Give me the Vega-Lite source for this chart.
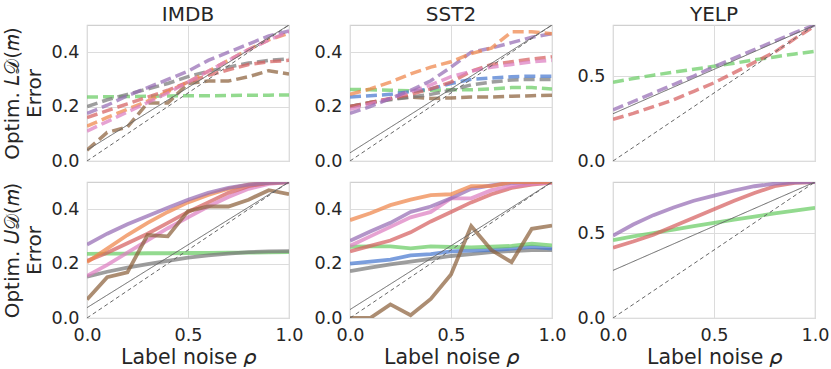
{
"$schema":"https://vega.github.io/schema/vega-lite/v6.json",
"padding":{"left":1,"top":3,"right":1,"bottom":0},
"background":"white",
"datasets":{
"refs":[
{"p":"IL","k":"solid","x":0,"y":0.04},{"p":"IL","k":"solid","x":1,"y":0.5},{"p":"IL","k":"dashed","x":0,"y":0},{"p":"IL","k":"dashed","x":1,"y":0.5},
{"p":"SL","k":"solid","x":0,"y":0.03},{"p":"SL","k":"solid","x":1,"y":0.5},{"p":"SL","k":"dashed","x":0,"y":0},{"p":"SL","k":"dashed","x":1,"y":0.5},
{"p":"YL","k":"solid","x":0,"y":0.278},{"p":"YL","k":"solid","x":1,"y":0.8},{"p":"YL","k":"dashed","x":0,"y":0},{"p":"YL","k":"dashed","x":1,"y":0.8},
{"p":"IU","k":"solid","x":0,"y":0.038},{"p":"IU","k":"solid","x":1,"y":0.5},{"p":"IU","k":"dashed","x":0,"y":0},{"p":"IU","k":"dashed","x":1,"y":0.5},
{"p":"SU","k":"solid","x":0,"y":0.031},{"p":"SU","k":"solid","x":1,"y":0.5},{"p":"SU","k":"dashed","x":0,"y":0},{"p":"SU","k":"dashed","x":1,"y":0.5},
{"p":"YU","k":"solid","x":0,"y":0.28},{"p":"YU","k":"solid","x":1,"y":0.8},{"p":"YU","k":"dashed","x":0,"y":0},{"p":"YU","k":"dashed","x":1,"y":0.8}
],
"curves":[
{"p":"IL","m":"green","x":0,"y":0.235},{"p":"IL","m":"green","x":0.1,"y":0.236},{"p":"IL","m":"green","x":0.2,"y":0.237},{"p":"IL","m":"green","x":0.3,"y":0.238},{"p":"IL","m":"green","x":0.4,"y":0.239},{"p":"IL","m":"green","x":0.5,"y":0.24},{"p":"IL","m":"green","x":0.6,"y":0.24},{"p":"IL","m":"green","x":0.7,"y":0.241},{"p":"IL","m":"green","x":0.8,"y":0.242},{"p":"IL","m":"green","x":0.9,"y":0.242},{"p":"IL","m":"green","x":1,"y":0.243},
{"p":"IL","m":"gray","x":0,"y":0.2},{"p":"IL","m":"gray","x":0.1,"y":0.225},{"p":"IL","m":"gray","x":0.2,"y":0.245},{"p":"IL","m":"gray","x":0.3,"y":0.265},{"p":"IL","m":"gray","x":0.4,"y":0.285},{"p":"IL","m":"gray","x":0.5,"y":0.31},{"p":"IL","m":"gray","x":0.6,"y":0.33},{"p":"IL","m":"gray","x":0.7,"y":0.345},{"p":"IL","m":"gray","x":0.8,"y":0.36},{"p":"IL","m":"gray","x":0.9,"y":0.37},{"p":"IL","m":"gray","x":1,"y":0.375},
{"p":"IL","m":"brown","x":0,"y":0.04},{"p":"IL","m":"brown","x":0.1,"y":0.105},{"p":"IL","m":"brown","x":0.2,"y":0.125},{"p":"IL","m":"brown","x":0.3,"y":0.213},{"p":"IL","m":"brown","x":0.4,"y":0.213},{"p":"IL","m":"brown","x":0.5,"y":0.285},{"p":"IL","m":"brown","x":0.6,"y":0.294},{"p":"IL","m":"brown","x":0.7,"y":0.294},{"p":"IL","m":"brown","x":0.8,"y":0.31},{"p":"IL","m":"brown","x":0.9,"y":0.332},{"p":"IL","m":"brown","x":1,"y":0.32},
{"p":"IL","m":"red","x":0,"y":0.16},{"p":"IL","m":"red","x":0.1,"y":0.185},{"p":"IL","m":"red","x":0.2,"y":0.21},{"p":"IL","m":"red","x":0.3,"y":0.235},{"p":"IL","m":"red","x":0.4,"y":0.26},{"p":"IL","m":"red","x":0.5,"y":0.29},{"p":"IL","m":"red","x":0.6,"y":0.315},{"p":"IL","m":"red","x":0.7,"y":0.335},{"p":"IL","m":"red","x":0.8,"y":0.355},{"p":"IL","m":"red","x":0.9,"y":0.365},{"p":"IL","m":"red","x":1,"y":0.37},
{"p":"IL","m":"orange","x":0,"y":0.128},{"p":"IL","m":"orange","x":0.1,"y":0.16},{"p":"IL","m":"orange","x":0.2,"y":0.19},{"p":"IL","m":"orange","x":0.3,"y":0.22},{"p":"IL","m":"orange","x":0.4,"y":0.255},{"p":"IL","m":"orange","x":0.5,"y":0.29},{"p":"IL","m":"orange","x":0.6,"y":0.33},{"p":"IL","m":"orange","x":0.7,"y":0.37},{"p":"IL","m":"orange","x":0.8,"y":0.41},{"p":"IL","m":"orange","x":0.9,"y":0.445},{"p":"IL","m":"orange","x":1,"y":0.47},
{"p":"IL","m":"purple","x":0,"y":0.175},{"p":"IL","m":"purple","x":0.1,"y":0.205},{"p":"IL","m":"purple","x":0.2,"y":0.24},{"p":"IL","m":"purple","x":0.3,"y":0.27},{"p":"IL","m":"purple","x":0.4,"y":0.3},{"p":"IL","m":"purple","x":0.5,"y":0.33},{"p":"IL","m":"purple","x":0.6,"y":0.37},{"p":"IL","m":"purple","x":0.7,"y":0.4},{"p":"IL","m":"purple","x":0.8,"y":0.43},{"p":"IL","m":"purple","x":0.9,"y":0.46},{"p":"IL","m":"purple","x":1,"y":0.478},
{"p":"IL","m":"pink","x":0,"y":0.11},{"p":"IL","m":"pink","x":0.1,"y":0.145},{"p":"IL","m":"pink","x":0.2,"y":0.18},{"p":"IL","m":"pink","x":0.3,"y":0.215},{"p":"IL","m":"pink","x":0.4,"y":0.25},{"p":"IL","m":"pink","x":0.5,"y":0.29},{"p":"IL","m":"pink","x":0.6,"y":0.33},{"p":"IL","m":"pink","x":0.7,"y":0.37},{"p":"IL","m":"pink","x":0.8,"y":0.41},{"p":"IL","m":"pink","x":0.9,"y":0.445},{"p":"IL","m":"pink","x":1,"y":0.475},

{"p":"SL","m":"brown","x":0,"y":0.2},{"p":"SL","m":"brown","x":0.1,"y":0.215},{"p":"SL","m":"brown","x":0.2,"y":0.228},{"p":"SL","m":"brown","x":0.3,"y":0.235},{"p":"SL","m":"brown","x":0.4,"y":0.23},{"p":"SL","m":"brown","x":0.5,"y":0.232},{"p":"SL","m":"brown","x":0.6,"y":0.235},{"p":"SL","m":"brown","x":0.7,"y":0.235},{"p":"SL","m":"brown","x":0.8,"y":0.238},{"p":"SL","m":"brown","x":0.9,"y":0.24},{"p":"SL","m":"brown","x":1,"y":0.242},
{"p":"SL","m":"green","x":0,"y":0.263},{"p":"SL","m":"green","x":0.1,"y":0.262},{"p":"SL","m":"green","x":0.2,"y":0.26},{"p":"SL","m":"green","x":0.3,"y":0.258},{"p":"SL","m":"green","x":0.4,"y":0.26},{"p":"SL","m":"green","x":0.5,"y":0.262},{"p":"SL","m":"green","x":0.6,"y":0.262},{"p":"SL","m":"green","x":0.7,"y":0.265},{"p":"SL","m":"green","x":0.8,"y":0.27},{"p":"SL","m":"green","x":0.9,"y":0.27},{"p":"SL","m":"green","x":1,"y":0.265},
{"p":"SL","m":"gray","x":0,"y":0.2},{"p":"SL","m":"gray","x":0.1,"y":0.215},{"p":"SL","m":"gray","x":0.2,"y":0.225},{"p":"SL","m":"gray","x":0.3,"y":0.235},{"p":"SL","m":"gray","x":0.4,"y":0.245},{"p":"SL","m":"gray","x":0.5,"y":0.26},{"p":"SL","m":"gray","x":0.6,"y":0.28},{"p":"SL","m":"gray","x":0.7,"y":0.29},{"p":"SL","m":"gray","x":0.8,"y":0.298},{"p":"SL","m":"gray","x":0.9,"y":0.3},{"p":"SL","m":"gray","x":1,"y":0.3},
{"p":"SL","m":"blue","x":0,"y":0.235},{"p":"SL","m":"blue","x":0.1,"y":0.24},{"p":"SL","m":"blue","x":0.2,"y":0.245},{"p":"SL","m":"blue","x":0.3,"y":0.255},{"p":"SL","m":"blue","x":0.4,"y":0.265},{"p":"SL","m":"blue","x":0.5,"y":0.285},{"p":"SL","m":"blue","x":0.6,"y":0.3},{"p":"SL","m":"blue","x":0.7,"y":0.305},{"p":"SL","m":"blue","x":0.8,"y":0.31},{"p":"SL","m":"blue","x":0.9,"y":0.312},{"p":"SL","m":"blue","x":1,"y":0.312},
{"p":"SL","m":"red","x":0,"y":0.2},{"p":"SL","m":"red","x":0.1,"y":0.215},{"p":"SL","m":"red","x":0.2,"y":0.23},{"p":"SL","m":"red","x":0.3,"y":0.245},{"p":"SL","m":"red","x":0.4,"y":0.265},{"p":"SL","m":"red","x":0.5,"y":0.29},{"p":"SL","m":"red","x":0.6,"y":0.33},{"p":"SL","m":"red","x":0.7,"y":0.355},{"p":"SL","m":"red","x":0.8,"y":0.365},{"p":"SL","m":"red","x":0.9,"y":0.375},{"p":"SL","m":"red","x":1,"y":0.383},
{"p":"SL","m":"pink","x":0,"y":0.19},{"p":"SL","m":"pink","x":0.1,"y":0.21},{"p":"SL","m":"pink","x":0.2,"y":0.23},{"p":"SL","m":"pink","x":0.3,"y":0.255},{"p":"SL","m":"pink","x":0.4,"y":0.28},{"p":"SL","m":"pink","x":0.5,"y":0.31},{"p":"SL","m":"pink","x":0.6,"y":0.33},{"p":"SL","m":"pink","x":0.7,"y":0.345},{"p":"SL","m":"pink","x":0.8,"y":0.355},{"p":"SL","m":"pink","x":0.9,"y":0.365},{"p":"SL","m":"pink","x":1,"y":0.37},
{"p":"SL","m":"purple","x":0,"y":0.175},{"p":"SL","m":"purple","x":0.1,"y":0.2},{"p":"SL","m":"purple","x":0.2,"y":0.23},{"p":"SL","m":"purple","x":0.3,"y":0.26},{"p":"SL","m":"purple","x":0.4,"y":0.295},{"p":"SL","m":"purple","x":0.5,"y":0.345},{"p":"SL","m":"purple","x":0.6,"y":0.4},{"p":"SL","m":"purple","x":0.7,"y":0.415},{"p":"SL","m":"purple","x":0.8,"y":0.435},{"p":"SL","m":"purple","x":0.9,"y":0.455},{"p":"SL","m":"purple","x":1,"y":0.468},
{"p":"SL","m":"orange","x":0,"y":0.245},{"p":"SL","m":"orange","x":0.1,"y":0.265},{"p":"SL","m":"orange","x":0.2,"y":0.29},{"p":"SL","m":"orange","x":0.3,"y":0.32},{"p":"SL","m":"orange","x":0.4,"y":0.345},{"p":"SL","m":"orange","x":0.5,"y":0.365},{"p":"SL","m":"orange","x":0.6,"y":0.395},{"p":"SL","m":"orange","x":0.7,"y":0.415},{"p":"SL","m":"orange","x":0.8,"y":0.475},{"p":"SL","m":"orange","x":0.9,"y":0.475},{"p":"SL","m":"orange","x":1,"y":0.468},

{"p":"YL","m":"green","x":0,"y":0.463},{"p":"YL","m":"green","x":0.1,"y":0.485},{"p":"YL","m":"green","x":0.2,"y":0.505},{"p":"YL","m":"green","x":0.3,"y":0.523},{"p":"YL","m":"green","x":0.4,"y":0.54},{"p":"YL","m":"green","x":0.5,"y":0.557},{"p":"YL","m":"green","x":0.6,"y":0.575},{"p":"YL","m":"green","x":0.7,"y":0.595},{"p":"YL","m":"green","x":0.8,"y":0.612},{"p":"YL","m":"green","x":0.9,"y":0.63},{"p":"YL","m":"green","x":1,"y":0.645},
{"p":"YL","m":"red","x":0,"y":0.245},{"p":"YL","m":"red","x":0.1,"y":0.28},{"p":"YL","m":"red","x":0.2,"y":0.32},{"p":"YL","m":"red","x":0.3,"y":0.36},{"p":"YL","m":"red","x":0.4,"y":0.41},{"p":"YL","m":"red","x":0.5,"y":0.46},{"p":"YL","m":"red","x":0.6,"y":0.52},{"p":"YL","m":"red","x":0.7,"y":0.58},{"p":"YL","m":"red","x":0.8,"y":0.64},{"p":"YL","m":"red","x":0.9,"y":0.72},{"p":"YL","m":"red","x":1,"y":0.795},
{"p":"YL","m":"purple","x":0,"y":0.3},{"p":"YL","m":"purple","x":0.1,"y":0.35},{"p":"YL","m":"purple","x":0.2,"y":0.4},{"p":"YL","m":"purple","x":0.3,"y":0.45},{"p":"YL","m":"purple","x":0.4,"y":0.5},{"p":"YL","m":"purple","x":0.5,"y":0.555},{"p":"YL","m":"purple","x":0.6,"y":0.605},{"p":"YL","m":"purple","x":0.7,"y":0.655},{"p":"YL","m":"purple","x":0.8,"y":0.705},{"p":"YL","m":"purple","x":0.9,"y":0.755},{"p":"YL","m":"purple","x":1,"y":0.8},

{"p":"IU","m":"green","x":0,"y":0.236},{"p":"IU","m":"green","x":0.1,"y":0.237},{"p":"IU","m":"green","x":0.2,"y":0.237},{"p":"IU","m":"green","x":0.3,"y":0.238},{"p":"IU","m":"green","x":0.4,"y":0.238},{"p":"IU","m":"green","x":0.5,"y":0.239},{"p":"IU","m":"green","x":0.6,"y":0.239},{"p":"IU","m":"green","x":0.7,"y":0.24},{"p":"IU","m":"green","x":0.8,"y":0.24},{"p":"IU","m":"green","x":0.9,"y":0.241},{"p":"IU","m":"green","x":1,"y":0.242},
{"p":"IU","m":"gray","x":0,"y":0.152},{"p":"IU","m":"gray","x":0.1,"y":0.17},{"p":"IU","m":"gray","x":0.2,"y":0.185},{"p":"IU","m":"gray","x":0.3,"y":0.198},{"p":"IU","m":"gray","x":0.4,"y":0.21},{"p":"IU","m":"gray","x":0.5,"y":0.222},{"p":"IU","m":"gray","x":0.6,"y":0.23},{"p":"IU","m":"gray","x":0.7,"y":0.237},{"p":"IU","m":"gray","x":0.8,"y":0.242},{"p":"IU","m":"gray","x":0.9,"y":0.245},{"p":"IU","m":"gray","x":1,"y":0.246},
{"p":"IU","m":"pink","x":0,"y":0.155},{"p":"IU","m":"pink","x":0.1,"y":0.195},{"p":"IU","m":"pink","x":0.2,"y":0.24},{"p":"IU","m":"pink","x":0.3,"y":0.285},{"p":"IU","m":"pink","x":0.4,"y":0.33},{"p":"IU","m":"pink","x":0.5,"y":0.37},{"p":"IU","m":"pink","x":0.6,"y":0.41},{"p":"IU","m":"pink","x":0.7,"y":0.445},{"p":"IU","m":"pink","x":0.8,"y":0.475},{"p":"IU","m":"pink","x":0.9,"y":0.493},{"p":"IU","m":"pink","x":1,"y":0.5},
{"p":"IU","m":"red","x":0,"y":0.21},{"p":"IU","m":"red","x":0.1,"y":0.24},{"p":"IU","m":"red","x":0.2,"y":0.275},{"p":"IU","m":"red","x":0.3,"y":0.31},{"p":"IU","m":"red","x":0.4,"y":0.35},{"p":"IU","m":"red","x":0.5,"y":0.39},{"p":"IU","m":"red","x":0.6,"y":0.425},{"p":"IU","m":"red","x":0.7,"y":0.46},{"p":"IU","m":"red","x":0.8,"y":0.485},{"p":"IU","m":"red","x":0.9,"y":0.497},{"p":"IU","m":"red","x":1,"y":0.5},
{"p":"IU","m":"orange","x":0,"y":0.205},{"p":"IU","m":"orange","x":0.1,"y":0.255},{"p":"IU","m":"orange","x":0.2,"y":0.305},{"p":"IU","m":"orange","x":0.3,"y":0.35},{"p":"IU","m":"orange","x":0.4,"y":0.39},{"p":"IU","m":"orange","x":0.5,"y":0.425},{"p":"IU","m":"orange","x":0.6,"y":0.452},{"p":"IU","m":"orange","x":0.7,"y":0.475},{"p":"IU","m":"orange","x":0.8,"y":0.49},{"p":"IU","m":"orange","x":0.9,"y":0.498},{"p":"IU","m":"orange","x":1,"y":0.5},
{"p":"IU","m":"purple","x":0,"y":0.27},{"p":"IU","m":"purple","x":0.1,"y":0.31},{"p":"IU","m":"purple","x":0.2,"y":0.345},{"p":"IU","m":"purple","x":0.3,"y":0.375},{"p":"IU","m":"purple","x":0.4,"y":0.405},{"p":"IU","m":"purple","x":0.5,"y":0.435},{"p":"IU","m":"purple","x":0.6,"y":0.46},{"p":"IU","m":"purple","x":0.7,"y":0.478},{"p":"IU","m":"purple","x":0.8,"y":0.49},{"p":"IU","m":"purple","x":0.9,"y":0.497},{"p":"IU","m":"purple","x":1,"y":0.5},
{"p":"IU","m":"brown","x":0,"y":0.068},{"p":"IU","m":"brown","x":0.1,"y":0.15},{"p":"IU","m":"brown","x":0.2,"y":0.168},{"p":"IU","m":"brown","x":0.3,"y":0.305},{"p":"IU","m":"brown","x":0.4,"y":0.3},{"p":"IU","m":"brown","x":0.5,"y":0.393},{"p":"IU","m":"brown","x":0.6,"y":0.41},{"p":"IU","m":"brown","x":0.7,"y":0.41},{"p":"IU","m":"brown","x":0.8,"y":0.435},{"p":"IU","m":"brown","x":0.9,"y":0.47},{"p":"IU","m":"brown","x":1,"y":0.455},

{"p":"SU","m":"gray","x":0,"y":0.172},{"p":"SU","m":"gray","x":0.1,"y":0.185},{"p":"SU","m":"gray","x":0.2,"y":0.197},{"p":"SU","m":"gray","x":0.3,"y":0.207},{"p":"SU","m":"gray","x":0.4,"y":0.217},{"p":"SU","m":"gray","x":0.5,"y":0.228},{"p":"SU","m":"gray","x":0.6,"y":0.235},{"p":"SU","m":"gray","x":0.7,"y":0.242},{"p":"SU","m":"gray","x":0.8,"y":0.246},{"p":"SU","m":"gray","x":0.9,"y":0.25},{"p":"SU","m":"gray","x":1,"y":0.25},
{"p":"SU","m":"blue","x":0,"y":0.2},{"p":"SU","m":"blue","x":0.1,"y":0.207},{"p":"SU","m":"blue","x":0.2,"y":0.215},{"p":"SU","m":"blue","x":0.3,"y":0.23},{"p":"SU","m":"blue","x":0.4,"y":0.235},{"p":"SU","m":"blue","x":0.5,"y":0.245},{"p":"SU","m":"blue","x":0.6,"y":0.248},{"p":"SU","m":"blue","x":0.7,"y":0.25},{"p":"SU","m":"blue","x":0.8,"y":0.255},{"p":"SU","m":"blue","x":0.9,"y":0.262},{"p":"SU","m":"blue","x":1,"y":0.255},
{"p":"SU","m":"green","x":0,"y":0.262},{"p":"SU","m":"green","x":0.1,"y":0.263},{"p":"SU","m":"green","x":0.2,"y":0.263},{"p":"SU","m":"green","x":0.3,"y":0.256},{"p":"SU","m":"green","x":0.4,"y":0.263},{"p":"SU","m":"green","x":0.5,"y":0.261},{"p":"SU","m":"green","x":0.6,"y":0.26},{"p":"SU","m":"green","x":0.7,"y":0.262},{"p":"SU","m":"green","x":0.8,"y":0.265},{"p":"SU","m":"green","x":0.9,"y":0.273},{"p":"SU","m":"green","x":1,"y":0.267},
{"p":"SU","m":"red","x":0,"y":0.245},{"p":"SU","m":"red","x":0.1,"y":0.265},{"p":"SU","m":"red","x":0.2,"y":0.285},{"p":"SU","m":"red","x":0.3,"y":0.315},{"p":"SU","m":"red","x":0.4,"y":0.355},{"p":"SU","m":"red","x":0.5,"y":0.39},{"p":"SU","m":"red","x":0.6,"y":0.425},{"p":"SU","m":"red","x":0.7,"y":0.455},{"p":"SU","m":"red","x":0.8,"y":0.478},{"p":"SU","m":"red","x":0.9,"y":0.49},{"p":"SU","m":"red","x":1,"y":0.498},
{"p":"SU","m":"pink","x":0,"y":0.265},{"p":"SU","m":"pink","x":0.1,"y":0.3},{"p":"SU","m":"pink","x":0.2,"y":0.335},{"p":"SU","m":"pink","x":0.3,"y":0.37},{"p":"SU","m":"pink","x":0.4,"y":0.39},{"p":"SU","m":"pink","x":0.5,"y":0.44},{"p":"SU","m":"pink","x":0.6,"y":0.44},{"p":"SU","m":"pink","x":0.7,"y":0.47},{"p":"SU","m":"pink","x":0.8,"y":0.485},{"p":"SU","m":"pink","x":0.9,"y":0.493},{"p":"SU","m":"pink","x":1,"y":0.498},
{"p":"SU","m":"purple","x":0,"y":0.284},{"p":"SU","m":"purple","x":0.1,"y":0.318},{"p":"SU","m":"purple","x":0.2,"y":0.35},{"p":"SU","m":"purple","x":0.3,"y":0.39},{"p":"SU","m":"purple","x":0.4,"y":0.41},{"p":"SU","m":"purple","x":0.5,"y":0.44},{"p":"SU","m":"purple","x":0.6,"y":0.475},{"p":"SU","m":"purple","x":0.7,"y":0.488},{"p":"SU","m":"purple","x":0.8,"y":0.497},{"p":"SU","m":"purple","x":0.9,"y":0.5},{"p":"SU","m":"purple","x":1,"y":0.5},
{"p":"SU","m":"orange","x":0,"y":0.36},{"p":"SU","m":"orange","x":0.1,"y":0.385},{"p":"SU","m":"orange","x":0.2,"y":0.415},{"p":"SU","m":"orange","x":0.3,"y":0.435},{"p":"SU","m":"orange","x":0.4,"y":0.452},{"p":"SU","m":"orange","x":0.5,"y":0.455},{"p":"SU","m":"orange","x":0.6,"y":0.485},{"p":"SU","m":"orange","x":0.7,"y":0.485},{"p":"SU","m":"orange","x":0.8,"y":0.5},{"p":"SU","m":"orange","x":0.9,"y":0.5},{"p":"SU","m":"orange","x":1,"y":0.5},
{"p":"SU","m":"brown","x":0,"y":0},{"p":"SU","m":"brown","x":0.1,"y":0},{"p":"SU","m":"brown","x":0.2,"y":0.05},{"p":"SU","m":"brown","x":0.3,"y":0.01},{"p":"SU","m":"brown","x":0.4,"y":0.07},{"p":"SU","m":"brown","x":0.5,"y":0.16},{"p":"SU","m":"brown","x":0.6,"y":0.338},{"p":"SU","m":"brown","x":0.7,"y":0.25},{"p":"SU","m":"brown","x":0.8,"y":0.205},{"p":"SU","m":"brown","x":0.9,"y":0.328},{"p":"SU","m":"brown","x":1,"y":0.34},

{"p":"YU","m":"green","x":0,"y":0.458},{"p":"YU","m":"green","x":0.1,"y":0.48},{"p":"YU","m":"green","x":0.2,"y":0.5},{"p":"YU","m":"green","x":0.3,"y":0.52},{"p":"YU","m":"green","x":0.4,"y":0.54},{"p":"YU","m":"green","x":0.5,"y":0.56},{"p":"YU","m":"green","x":0.6,"y":0.578},{"p":"YU","m":"green","x":0.7,"y":0.597},{"p":"YU","m":"green","x":0.8,"y":0.615},{"p":"YU","m":"green","x":0.9,"y":0.632},{"p":"YU","m":"green","x":1,"y":0.648},
{"p":"YU","m":"red","x":0,"y":0.413},{"p":"YU","m":"red","x":0.1,"y":0.45},{"p":"YU","m":"red","x":0.2,"y":0.49},{"p":"YU","m":"red","x":0.3,"y":0.54},{"p":"YU","m":"red","x":0.4,"y":0.59},{"p":"YU","m":"red","x":0.5,"y":0.64},{"p":"YU","m":"red","x":0.6,"y":0.69},{"p":"YU","m":"red","x":0.7,"y":0.735},{"p":"YU","m":"red","x":0.8,"y":0.775},{"p":"YU","m":"red","x":0.9,"y":0.795},{"p":"YU","m":"red","x":1,"y":0.8},
{"p":"YU","m":"purple","x":0,"y":0.485},{"p":"YU","m":"purple","x":0.1,"y":0.55},{"p":"YU","m":"purple","x":0.2,"y":0.605},{"p":"YU","m":"purple","x":0.3,"y":0.65},{"p":"YU","m":"purple","x":0.4,"y":0.69},{"p":"YU","m":"purple","x":0.5,"y":0.72},{"p":"YU","m":"purple","x":0.6,"y":0.75},{"p":"YU","m":"purple","x":0.7,"y":0.775},{"p":"YU","m":"purple","x":0.8,"y":0.79},{"p":"YU","m":"purple","x":0.9,"y":0.798},{"p":"YU","m":"purple","x":1,"y":0.8}
]
},
"columns":3,
"spacing":{"row":21,"column":61},
"bounds":"flush",
"concat":[
{"width":202,"height":136,"title":"IMDB",
 "encoding":{"x":{"field":"x","type":"quantitative","scale":{"domain":[0,1]},"axis":{"values":[0,0.5,1],"labels":false,"title":null}},
  "y":{"field":"y","type":"quantitative","scale":{"domain":[0,0.5]},"axis":{"values":[0,0.2,0.4],"format":".1f","title":["Optim. 𝐿𝒟(𝑚)","Error"],"titlePadding":7}}},
 "layer":[
  {"data":{"name":"curves"},"transform":[{"filter":"datum.p=='IL'"}],"mark":{"type":"line","strokeWidth":3.5,"strokeDash":[11,5],"opacity":0.72,"clip":true},
   "encoding":{"color":{"field":"m","type":"nominal","scale":{"domain":["blue","orange","green","red","purple","brown","pink","gray"],"range":["#4878d0","#ee854a","#6acc64","#d65f5f","#956cb4","#8c613c","#dc7ec0","#797979"]},"legend":null}}},
  {"data":{"name":"refs"},"transform":[{"filter":"datum.p=='IL'"}],"mark":{"type":"line","strokeWidth":1,"color":"#666666","clip":true},
   "encoding":{"strokeDash":{"field":"k","type":"nominal","scale":{"domain":["solid","dashed"],"range":[[1,0],[4,3]]},"legend":null}}}
 ]},
{"width":202,"height":136,"title":"SST2",
 "encoding":{"x":{"field":"x","type":"quantitative","scale":{"domain":[0,1]},"axis":{"values":[0,0.5,1],"labels":false,"title":null}},
  "y":{"field":"y","type":"quantitative","scale":{"domain":[0,0.5]},"axis":{"values":[0,0.2,0.4],"format":".1f","title":null}}},
 "layer":[
  {"data":{"name":"curves"},"transform":[{"filter":"datum.p=='SL'"}],"mark":{"type":"line","strokeWidth":3.5,"strokeDash":[11,5],"opacity":0.72,"clip":true},
   "encoding":{"color":{"field":"m","type":"nominal","scale":{"domain":["blue","orange","green","red","purple","brown","pink","gray"],"range":["#4878d0","#ee854a","#6acc64","#d65f5f","#956cb4","#8c613c","#dc7ec0","#797979"]},"legend":null}}},
  {"data":{"name":"refs"},"transform":[{"filter":"datum.p=='SL'"}],"mark":{"type":"line","strokeWidth":1,"color":"#666666","clip":true},
   "encoding":{"strokeDash":{"field":"k","type":"nominal","scale":{"domain":["solid","dashed"],"range":[[1,0],[4,3]]},"legend":null}}}
 ]},
{"width":202,"height":136,"title":"YELP",
 "encoding":{"x":{"field":"x","type":"quantitative","scale":{"domain":[0,1]},"axis":{"values":[0,0.5,1],"labels":false,"title":null}},
  "y":{"field":"y","type":"quantitative","scale":{"domain":[0,0.8]},"axis":{"values":[0,0.5],"format":".1f","title":null}}},
 "layer":[
  {"data":{"name":"curves"},"transform":[{"filter":"datum.p=='YL'"}],"mark":{"type":"line","strokeWidth":3.5,"strokeDash":[11,5],"opacity":0.72,"clip":true},
   "encoding":{"color":{"field":"m","type":"nominal","scale":{"domain":["blue","orange","green","red","purple","brown","pink","gray"],"range":["#4878d0","#ee854a","#6acc64","#d65f5f","#956cb4","#8c613c","#dc7ec0","#797979"]},"legend":null}}},
  {"data":{"name":"refs"},"transform":[{"filter":"datum.p=='YL'"}],"mark":{"type":"line","strokeWidth":1,"color":"#666666","clip":true},
   "encoding":{"strokeDash":{"field":"k","type":"nominal","scale":{"domain":["solid","dashed"],"range":[[1,0],[4,3]]},"legend":null}}}
 ]},
{"width":202,"height":136,
 "encoding":{"x":{"field":"x","type":"quantitative","scale":{"domain":[0,1]},"axis":{"values":[0,0.5,1],"format":".1f","title":"Label noise 𝜌","titlePadding":4,"titleFontSize":20.5}},
  "y":{"field":"y","type":"quantitative","scale":{"domain":[0,0.5]},"axis":{"values":[0,0.2,0.4],"format":".1f","title":["Optim. 𝑈𝒟(𝑚)","Error"],"titlePadding":7}}},
 "layer":[
  {"data":{"name":"curves"},"transform":[{"filter":"datum.p=='IU'"}],"mark":{"type":"line","strokeWidth":3.8,"opacity":0.72,"clip":true},
   "encoding":{"color":{"field":"m","type":"nominal","scale":{"domain":["blue","orange","green","red","purple","brown","pink","gray"],"range":["#4878d0","#ee854a","#6acc64","#d65f5f","#956cb4","#8c613c","#dc7ec0","#797979"]},"legend":null}}},
  {"data":{"name":"refs"},"transform":[{"filter":"datum.p=='IU'"}],"mark":{"type":"line","strokeWidth":1,"color":"#666666","clip":true},
   "encoding":{"strokeDash":{"field":"k","type":"nominal","scale":{"domain":["solid","dashed"],"range":[[1,0],[4,3]]},"legend":null}}}
 ]},
{"width":202,"height":136,
 "encoding":{"x":{"field":"x","type":"quantitative","scale":{"domain":[0,1]},"axis":{"values":[0,0.5,1],"format":".1f","title":"Label noise 𝜌","titlePadding":4,"titleFontSize":20.5}},
  "y":{"field":"y","type":"quantitative","scale":{"domain":[0,0.5]},"axis":{"values":[0,0.2,0.4],"format":".1f","title":null}}},
 "layer":[
  {"data":{"name":"curves"},"transform":[{"filter":"datum.p=='SU'"}],"mark":{"type":"line","strokeWidth":3.8,"opacity":0.72,"clip":true},
   "encoding":{"color":{"field":"m","type":"nominal","scale":{"domain":["blue","orange","green","red","purple","brown","pink","gray"],"range":["#4878d0","#ee854a","#6acc64","#d65f5f","#956cb4","#8c613c","#dc7ec0","#797979"]},"legend":null}}},
  {"data":{"name":"refs"},"transform":[{"filter":"datum.p=='SU'"}],"mark":{"type":"line","strokeWidth":1,"color":"#666666","clip":true},
   "encoding":{"strokeDash":{"field":"k","type":"nominal","scale":{"domain":["solid","dashed"],"range":[[1,0],[4,3]]},"legend":null}}}
 ]},
{"width":202,"height":136,
 "encoding":{"x":{"field":"x","type":"quantitative","scale":{"domain":[0,1]},"axis":{"values":[0,0.5,1],"format":".1f","title":"Label noise 𝜌","titlePadding":4,"titleFontSize":20.5}},
  "y":{"field":"y","type":"quantitative","scale":{"domain":[0,0.8]},"axis":{"values":[0,0.5],"format":".1f","title":null}}},
 "layer":[
  {"data":{"name":"curves"},"transform":[{"filter":"datum.p=='YU'"}],"mark":{"type":"line","strokeWidth":3.8,"opacity":0.72,"clip":true},
   "encoding":{"color":{"field":"m","type":"nominal","scale":{"domain":["blue","orange","green","red","purple","brown","pink","gray"],"range":["#4878d0","#ee854a","#6acc64","#d65f5f","#956cb4","#8c613c","#dc7ec0","#797979"]},"legend":null}}},
  {"data":{"name":"refs"},"transform":[{"filter":"datum.p=='YU'"}],"mark":{"type":"line","strokeWidth":1,"color":"#666666","clip":true},
   "encoding":{"strokeDash":{"field":"k","type":"nominal","scale":{"domain":["solid","dashed"],"range":[[1,0],[4,3]]},"legend":null}}}
 ]}
],
"config":{
 "font":"DejaVu Sans",
 "view":{"stroke":"#d0d0d0","strokeWidth":1.2},
 "axis":{"grid":true,"gridColor":"#dcdcdc","gridWidth":1,"domain":false,"ticks":false,"labelFlush":false,"labelFont":"DejaVu Sans","labelFontSize":17.6,"labelColor":"#262626","labelPadding":8,"titleFont":"DejaVu Sans","titleFontSize":20,"titleFontWeight":"normal","titleColor":"#262626"},
 "title":{"font":"DejaVu Sans","fontSize":20,"fontWeight":"normal","color":"#262626","offset":0.5}
}
}
